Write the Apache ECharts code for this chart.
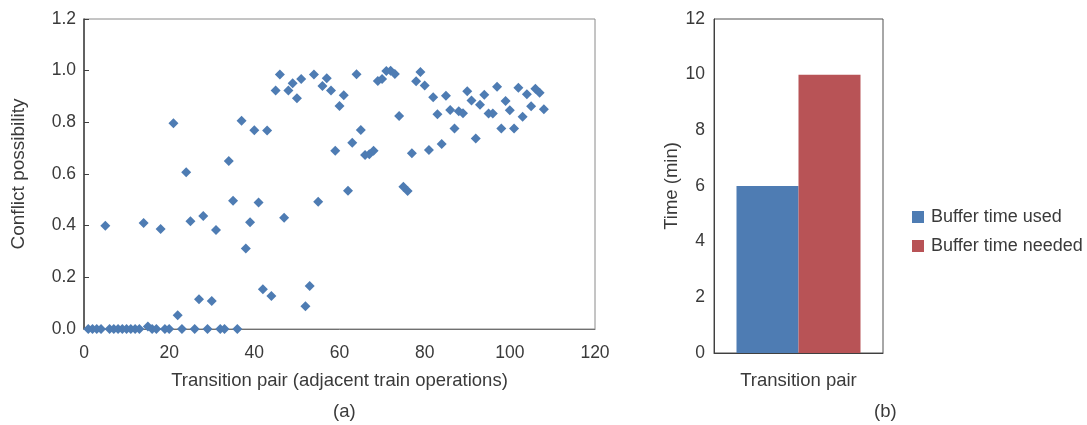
<!DOCTYPE html>
<html>
<head>
<meta charset="utf-8">
<script src="https://cdn.jsdelivr.net/npm/echarts@6/dist/echarts.min.js"></script>
<style>
html,body{margin:0;padding:0;background:#fff;}
#chart{width:1087px;height:425px;}
</style>
</head>
<body>
<div id="chart"></div>
<script>
// ---- Panel (a): conflict possibility per transition pair ----
const pairIndex = [1,2,3,4,5,6,7,8,9,10,11,12,13,14,15,16,17,18,19,20,
  21,22,23,24,25,26,27,28,29,30,31,32,33,34,35,36,37,38,39,40,
  41,42,43,44,45,46,47,48,49,50,51,52,53,54,55,56,57,58,59,60,
  61,62,63,64,65,66,67,68,69,70,71,72,73,74,75,76,77,78,79,80,
  81,82,83,84,85,86,87,88,89,90,91,92,93,94,95,96,97,98,99,100,
  101,102,103,104,105,106,107,108];
const conflictPossibility = [0,0,0,0,0.40,0,0,0,0,0,0,0,0,0.41,0.01,0,0,0.387,0,0,
  0.796,0.053,0,0.607,0.417,0,0.115,0.437,0,0.108,0.383,0,0,0.65,0.496,0,0.806,0.312,0.413,0.769,
  0.49,0.154,0.768,0.128,0.923,0.985,0.431,0.923,0.951,0.893,0.968,0.088,0.166,0.985,0.493,0.941,0.971,0.923,0.69,0.863,
  0.905,0.535,0.721,0.986,0.77,0.674,0.676,0.69,0.96,0.968,0.999,1.0,0.987,0.825,0.551,0.534,0.68,0.959,0.995,0.943,
  0.693,0.897,0.831,0.716,0.903,0.848,0.776,0.843,0.835,0.92,0.885,0.737,0.868,0.907,0.834,0.834,0.938,0.776,0.883,0.847,
  0.776,0.934,0.822,0.909,0.862,0.93,0.915,0.851];
const xTicks = [0,20,40,60,80,100,120];
const yTicksA = [0,0.2,0.4,0.6,0.8,1.0,1.2];

// ---- Panel (b): buffer time ----
const barCategories = ['Transition pair'];
const bufferUsed = [6];
const bufferNeeded = [10];
const yTicksB = [0,2,4,6,8,10,12];

const FONT = "'Liberation Sans', Arial, sans-serif";
const TXT = '#3a3a3a';
const BLUE = '#4e7cb3';
const RED = '#b85356';
const TICK_FS = 17.5;
const TITLE_FS = 18.5;

const scatterData = pairIndex.map((x, i) => [x, conflictPossibility[i]]);

const chart = echarts.init(document.getElementById('chart'), null, {renderer: 'canvas'});
chart.setOption({
  animation: false,
  backgroundColor: '#fff',
  textStyle: {fontFamily: FONT, color: TXT},
  grid: [
    {left: 84, top: 19, width: 511, height: 310, show: true, borderColor: '#8a8a8a', borderWidth: 1},
    {left: 714, top: 19, width: 169, height: 334, show: true, borderColor: '#505050', borderWidth: 1}
  ],
  legend: {
    orient: 'vertical', left: 912, top: 208, padding: 0,
    itemWidth: 12, itemHeight: 12, itemGap: 11,
    icon: 'rect',
    data: ['Buffer time used', 'Buffer time needed'],
    textStyle: {fontFamily: FONT, fontSize: 18, color: TXT, padding: [0,0,0,2]}
  },
  xAxis: [
    {
      gridIndex: 0, type: 'value',
      min: xTicks[0], max: xTicks[xTicks.length-1], interval: 20,
      name: 'Transition pair (adjacent train operations)', nameLocation: 'middle', nameGap: 42,
      nameTextStyle: {fontFamily: FONT, fontSize: TITLE_FS, color: TXT},
      axisLine: {show: true, lineStyle: {color: '#707070', width: 1}},
      axisTick: {show: false},
      splitLine: {show: false},
      axisLabel: {fontFamily: FONT, fontSize: TICK_FS, color: TXT, margin: 15}
    },
    {
      gridIndex: 1, type: 'category', data: barCategories,
      axisLine: {show: true, lineStyle: {color: '#404040', width: 1}},
      axisTick: {show: false},
      axisLabel: {fontFamily: FONT, fontSize: TITLE_FS, color: TXT, margin: 18}
    }
  ],
  yAxis: [
    {
      gridIndex: 0, type: 'value',
      min: yTicksA[0], max: yTicksA[yTicksA.length-1], interval: 0.2,
      name: 'Conflict possibility', nameLocation: 'middle', nameGap: 56, nameRotate: 90,
      nameTextStyle: {fontFamily: FONT, fontSize: 19, color: TXT},
      axisLine: {show: true, lineStyle: {color: '#404040', width: 1.5}},
      axisTick: {show: true, inside: true, length: 5, lineStyle: {color: '#404040'}},
      splitLine: {show: false},
      axisLabel: {fontFamily: FONT, fontSize: TICK_FS, color: TXT, margin: 8, formatter: v => v.toFixed(1)}
    },
    {
      gridIndex: 1, type: 'value',
      min: yTicksB[0], max: yTicksB[yTicksB.length-1], interval: 2,
      name: 'Time (min)', nameLocation: 'middle', nameGap: 33, nameRotate: 90,
      nameTextStyle: {fontFamily: FONT, fontSize: TITLE_FS, color: TXT},
      axisLine: {show: true, lineStyle: {color: '#404040', width: 1}},
      axisTick: {show: false},
      splitLine: {show: false},
      axisLabel: {fontFamily: FONT, fontSize: TICK_FS, color: TXT, margin: 9}
    }
  ],
  series: [
    {
      type: 'scatter', xAxisIndex: 0, yAxisIndex: 0,
      data: scatterData,
      symbol: 'diamond', symbolSize: 10,
      itemStyle: {color: BLUE, opacity: 1}
    },
    {
      name: 'Buffer time used', type: 'bar', xAxisIndex: 1, yAxisIndex: 1,
      data: bufferUsed, barWidth: 62, barGap: '0%',
      itemStyle: {color: BLUE}
    },
    {
      name: 'Buffer time needed', type: 'bar', xAxisIndex: 1, yAxisIndex: 1,
      data: bufferNeeded, barWidth: 62, barGap: '0%',
      itemStyle: {color: RED}
    }
  ],
  graphic: [
    {type: 'text', left: 333, top: 402, style: {text: '(a)', font: TITLE_FS + 'px ' + FONT, fill: TXT}},
    {type: 'text', left: 874, top: 402, style: {text: '(b)', font: TITLE_FS + 'px ' + FONT, fill: TXT}}
  ]
});
</script>
</body>
</html>
